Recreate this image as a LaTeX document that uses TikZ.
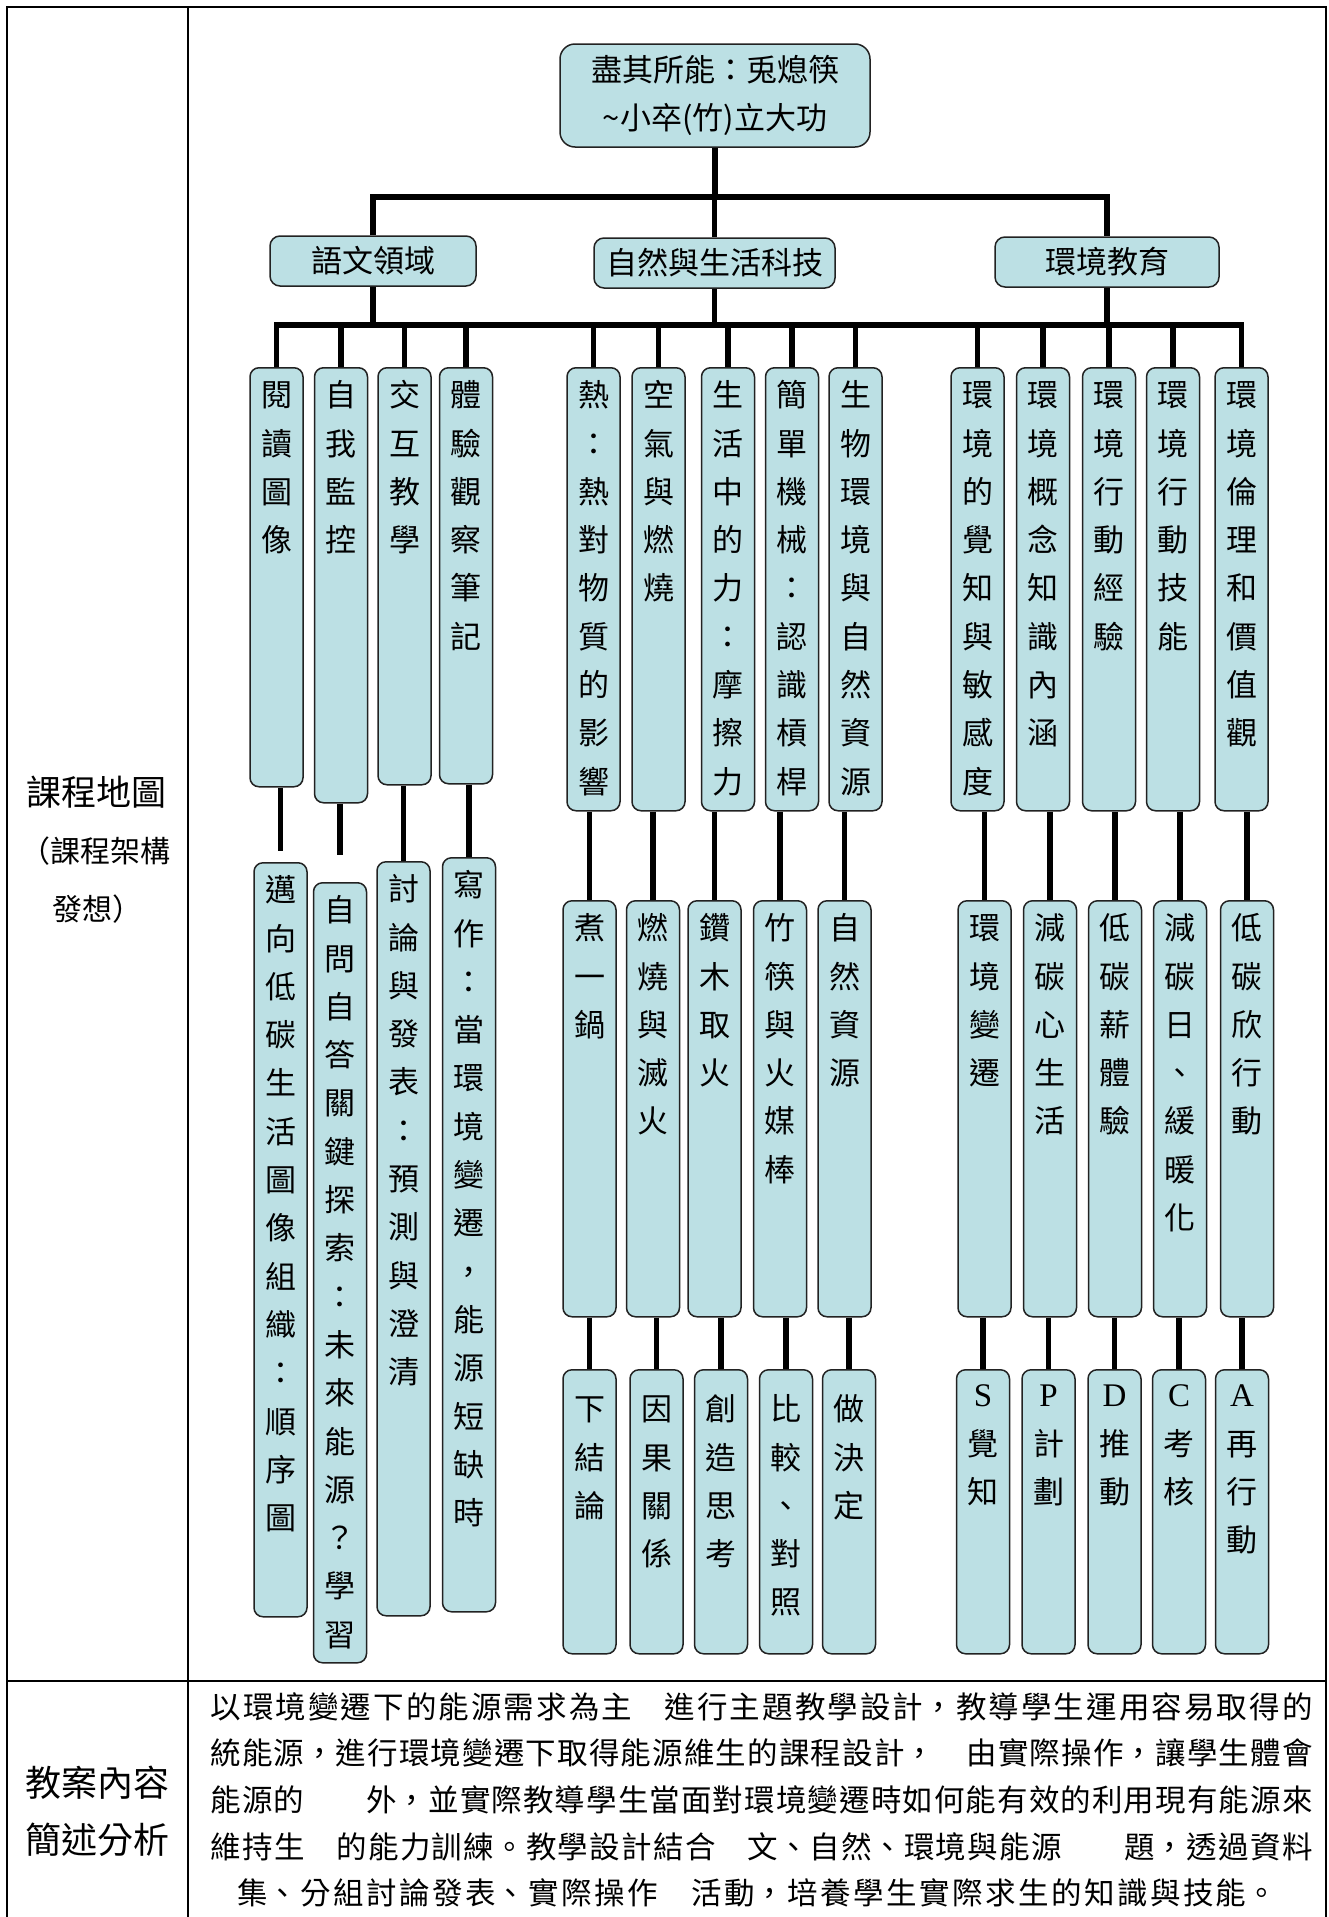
\documentclass[tikz,border=0pt]{standalone}
\usepackage{fontspec}
\setmainfont{Noto Sans CJK TC}
\newfontfamily\latinfont{Liberation Serif}
\XeTeXlinebreaklocale "zh"
\XeTeXlinebreakskip=0pt plus 2pt

\definecolor{boxfill}{RGB}{188,224,228}
\definecolor{boxline}{RGB}{34,34,34}

% one character per line, text kept at the top of the box
\newcommand{\colstack}[3][39]{\parbox[t][#2pt][t]{50pt}{\centering\fontsize{31}{48.3}\selectfont\rule{0pt}{#1pt}#3}}
% a justified line of the summary
\newcommand{\bodyline}[2]{\parbox{#1pt}{\fontsize{30.5}{40}\selectfont\parfillskip=0pt #2}}
\newcommand{\capletter}[1]{{\latinfont\fontsize{33}{40}\selectfont #1}}

\begin{document}
\begin{tikzpicture}[x=1pt,y=-1pt,
  box node/.style={draw=boxline,fill=boxfill,line width=1.5pt},
  title node/.style={box node,rounded corners=15pt,minimum width=310pt,minimum height=103pt,
    inner sep=0pt,align=center,font=\fontsize{31}{47.5}\selectfont},
  head node/.style={box node,rounded corners=10pt,minimum height=50pt,inner sep=0pt,
    font=\fontsize{31}{37}\selectfont},
  stick node/.style={box node,rounded corners=9pt,anchor=north,minimum width=53pt,inner sep=0pt},
  bar line/.style={line width=5.5pt,line join=miter},
  table line/.style={line width=1.8pt}]

  \useasboundingbox (0,0) rectangle (1329,1917);

  % table
  \draw[table line] (7,1917) -- (7,7) -- (1326,7) -- (1326,1917);
  \draw[table line] (188,7) -- (188,1917);
  \draw[table line,line width=2.6pt] (7,1681) -- (1326,1681);

  \node[font=\fontsize{35}{42}\selectfont] (map) at (97,792) {課程地圖};
  \node[font=\fontsize{30}{35}\selectfont] (map2) at (95,851) {（課程架構};
  \node[font=\fontsize{30}{35}\selectfont] (map3) at (97,909) {發想）};
  \node[font=\fontsize{36}{42}\selectfont] (plan) at (97,1783) {教案內容};
  \node[font=\fontsize{36}{42}\selectfont] (plan2) at (97,1840) {簡述分析};

  % tree
  \node[title node] (title) at (715,95.5) {盡其所能：兎熄筷\\\textasciitilde 小卒(竹)立大功};
  \node[head node,minimum width=206pt] (lang) at (373,261) {語文領域};
  \node[head node,minimum width=241pt] (sci) at (714.5,263) {自然與生活科技};
  \node[head node,minimum width=224pt] (env) at (1107,262) {環境教育};

  \node[stick node] (L1) at (276.5,367) {\colstack{419}{閱\\讀\\圖\\像}};
  \node[stick node] (L2) at (341,367) {\colstack{435}{自\\我\\監\\控}};
  \node[stick node] (L3) at (404.5,367) {\colstack{417}{交\\互\\教\\學}};
  \node[stick node] (L4) at (466,367) {\colstack{416}{體\\驗\\觀\\察\\筆\\記}};
  \node[stick node] (S1) at (593.5,367) {\colstack{443}{熱\\：\\熱\\對\\物\\質\\的\\影\\響}};
  \node[stick node] (S2) at (658.5,367) {\colstack{443}{空\\氣\\與\\燃\\燒}};
  \node[stick node] (S3) at (728,367) {\colstack{443}{生\\活\\中\\的\\力\\：\\摩\\擦\\力}};
  \node[stick node] (S4) at (792,367) {\colstack{443}{簡\\單\\機\\械\\：\\認\\識\\槓\\桿}};
  \node[stick node] (S5) at (855.5,367) {\colstack{443}{生\\物\\環\\境\\與\\自\\然\\資\\源}};
  \node[stick node] (E1) at (977.5,367) {\colstack{443}{環\\境\\的\\覺\\知\\與\\敏\\感\\度}};
  \node[stick node] (E2) at (1043,367) {\colstack{443}{環\\境\\概\\念\\知\\識\\內\\涵}};
  \node[stick node] (E3) at (1109,367) {\colstack{443}{環\\境\\行\\動\\經\\驗}};
  \node[stick node] (E4) at (1173,367) {\colstack{443}{環\\境\\行\\動\\技\\能}};
  \node[stick node] (E5) at (1241.5,367) {\colstack{443}{環\\境\\倫\\理\\和\\價\\值\\觀}};

  \node[stick node] (L1b) at (280.5,862) {\colstack{754}{邁\\向\\低\\碳\\生\\活\\圖\\像\\組\\織\\：\\順\\序\\圖}};
  \node[stick node] (L2b) at (340,882) {\colstack{780}{自\\問\\自\\答\\關\\鍵\\探\\索\\：\\未\\來\\能\\源\\？\\學\\習}};
  \node[stick node] (L3b) at (403.5,861) {\colstack{754}{討\\論\\與\\發\\表\\：\\預\\測\\與\\澄\\清}};
  \node[stick node] (L4b) at (469,857) {\colstack{754}{寫\\作\\：\\當\\環\\境\\變\\遷\\，\\能\\源\\短\\缺\\時}};
  \node[stick node] (S1b) at (589.5,900) {\colstack{416}{煮\\一\\鍋}};
  \node[stick node] (S2b) at (653,900) {\colstack{416}{燃\\燒\\與\\滅\\火}};
  \node[stick node] (S3b) at (714.5,900) {\colstack{416}{鑽\\木\\取\\火}};
  \node[stick node] (S4b) at (780,900) {\colstack{416}{竹\\筷\\與\\火\\媒\\棒}};
  \node[stick node] (S5b) at (844.5,900) {\colstack{416}{自\\然\\資\\源}};
  \node[stick node] (E1b) at (984.5,900) {\colstack{416}{環\\境\\變\\遷}};
  \node[stick node] (E2b) at (1050,900) {\colstack{416}{減\\碳\\心\\生\\活}};
  \node[stick node] (E3b) at (1115,900) {\colstack{416}{低\\碳\\薪\\體\\驗}};
  \node[stick node] (E4b) at (1180,900) {\colstack{416}{減\\碳\\日\\、\\緩\\暖\\化}};
  \node[stick node] (E5b) at (1247,900) {\colstack{416}{低\\碳\\欣\\行\\動}};

  \node[stick node] (S1c) at (589.5,1369) {\colstack[51]{284}{下\\結\\論}};
  \node[stick node] (S2c) at (656.5,1369) {\colstack[51]{284}{因\\果\\關\\係}};
  \node[stick node] (S3c) at (721,1369) {\colstack[51]{284}{創\\造\\思\\考}};
  \node[stick node] (S4c) at (786,1369) {\colstack[51]{284}{比\\較\\、\\對\\照}};
  \node[stick node] (S5c) at (849,1369) {\colstack[51]{284}{做\\決\\定}};
  \node[stick node] (E1c) at (983,1369) {\colstack[37]{284}{\capletter{S}\\覺\\知}};
  \node[stick node] (E2c) at (1048.5,1369) {\colstack[37]{284}{\capletter{P}\\計\\劃}};
  \node[stick node] (E3c) at (1114.5,1369) {\colstack[37]{284}{\capletter{D}\\推\\動}};
  \node[stick node] (E4c) at (1179,1369) {\colstack[37]{284}{\capletter{C}\\考\\核}};
  \node[stick node] (E5c) at (1242,1369) {\colstack[37]{284}{\capletter{A}\\再\\行\\動}};

  \coordinate (top bar) at (0,197);
  \coordinate (bar) at (0,325);

  % connectors
  \draw[bar line] (title) -- (title |- top bar);
  \draw[bar line] (lang) -- (lang |- top bar) -- (env |- top bar) -- (env);
  \draw[bar line] (sci |- top bar) -- (sci);
  \draw[bar line] (lang) -- (lang |- bar) (sci) -- (sci |- bar) (env) -- (env |- bar);
  \draw[bar line] (L1) -- (L1 |- bar) -- (E5 |- bar) -- (E5);
  \draw[bar line] (L2 |- bar) -- (L2) (L3 |- bar) -- (L3) (L4 |- bar) -- (L4)
    (S1 |- bar) -- (S1) (S2 |- bar) -- (S2) (S3 |- bar) -- (S3) (S4 |- bar) -- (S4)
    (S5 |- bar) -- (S5) (E1 |- bar) -- (E1) (E2 |- bar) -- (E2) (E3 |- bar) -- (E3)
    (E4 |- bar) -- (E4);

  \path[bar line]
    (L1b.north |- L1.south) edge[shorten >=11pt] (L1b)
    (L2b.north |- L2.south) edge[shorten >=27pt] (L2b)
    (L3b.north |- L3.south) edge (L3b)
    (L4b.north |- L4.south) edge (L4b)
    (S1b.north |- S1.south) edge (S1b) (S2b.north |- S2.south) edge (S2b)
    (S3b.north |- S3.south) edge (S3b) (S4b.north |- S4.south) edge (S4b)
    (S5b.north |- S5.south) edge (S5b)
    (E1b.north |- E1.south) edge (E1b) (E2b.north |- E2.south) edge (E2b)
    (E3b.north |- E3.south) edge (E3b) (E4b.north |- E4.south) edge (E4b)
    (E5b.north |- E5.south) edge (E5b)
    (S1c.north |- S1b.south) edge (S1c) (S2c.north |- S2b.south) edge (S2c)
    (S3c.north |- S3b.south) edge (S3c) (S4c.north |- S4b.south) edge (S4c)
    (S5c.north |- S5b.south) edge (S5c)
    (E1c.north |- E1b.south) edge (E1c) (E2c.north |- E2b.south) edge (E2c)
    (E3c.north |- E3b.south) edge (E3c) (E4c.north |- E4b.south) edge (E4c)
    (E5c.north |- E5b.south) edge (E5c);

  % summary
  \node[anchor=west] (sum1) at (207,1707) {\bodyline{1102}{以環境變遷下的能源需求為主　進行主題教學設計，教導學生運用容易取得的}};
  \node[anchor=west] (sum2) at (207,1753) {\bodyline{1102}{統能源，進行環境變遷下取得能源維生的課程設計，　由實際操作，讓學生體會}};
  \node[anchor=west] (sum3) at (207,1800) {\bodyline{1102}{能源的　　外，並實際教導學生當面對環境變遷時如何能有效的利用現有能源來}};
  \node[anchor=west] (sum4) at (207,1847) {\bodyline{1102}{維持生　的能力訓練。教學設計結合　文、自然、環境與能源　　題，透過資料}};
  \node (sum5) at (757,1893) {\bodyline{1040}{集、分組討論發表、實際操作　活動，培養學生實際求生的知識與技能。}};
\end{tikzpicture}
\end{document}
